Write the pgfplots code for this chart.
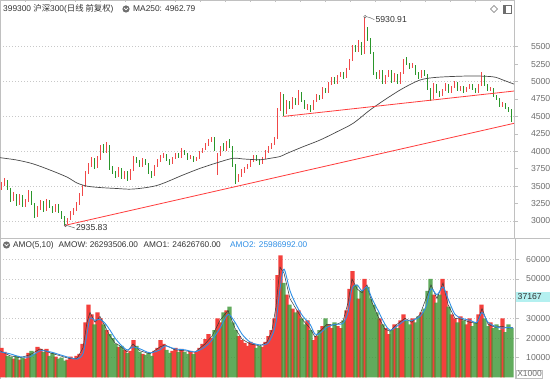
\documentclass[border=0pt]{standalone}
\usepackage{fontspec}
\setmainfont{Liberation Sans}
\newfontfamily\cjk{Noto Sans CJK SC}
\usepackage{pgfplots}
\usepackage{pgfplotstable}
\pgfplotsset{compat=1.18}
\definecolor{candred}{HTML}{F04848}
\definecolor{candgreen}{HTML}{2A962A}
\definecolor{volred}{HTML}{F4403C}
\definecolor{volgreen}{HTML}{3A9634}
\definecolor{trendred}{HTML}{FF3C3C}
\definecolor{magray}{HTML}{484848}
\definecolor{amoblue}{HTML}{2F8FE6}
\definecolor{amodark}{HTML}{3A3A3A}
\definecolor{gridgray}{HTML}{C8C8C8}
\definecolor{framegray}{HTML}{C0C0C0}
\definecolor{labelgray}{HTML}{6E6E6E}
\definecolor{boxcyan}{HTML}{B4F0F0}
\definecolor{hdr}{HTML}{333333}

\pgfplotstableread{
o h l c v
3480 3560 3450 3520 15000
3530 3610 3500 3580 13000
3570 3590 3440 3470 11000
3460 3480 3270 3300 10500
3300 3410 3280 3380 9500
3370 3390 3220 3250 11000
3250 3390 3230 3360 9000
3350 3370 3200 3230 10000
3230 3320 3200 3290 9500
3290 3450 3270 3420 12500
3410 3430 3230 3250 13500
3240 3260 3050 3080 12000
3080 3210 3060 3180 15500
3180 3300 3160 3270 14500
3260 3280 3130 3160 13000
3160 3310 3140 3290 14500
3280 3300 3180 3200 11000
3200 3220 3120 3150 12500
3150 3250 3130 3230 10500
3220 3240 3110 3130 9500
3130 3150 3030 3050 10000
3050 3070 2935.83 2980 8500
2980 3050 2960 3030 9000
3030 3140 3010 3120 10500
3120 3190 3090 3170 9500
3170 3270 3150 3250 11000
3250 3400 3230 3380 12000
3380 3520 3360 3500 17000
3500 3720 3490 3700 28000
3700 3830 3680 3800 37000
3800 3920 3770 3880 32000
3880 3900 3750 3780 27000
3780 3930 3760 3900 33000
3900 4090 3880 4060 30000
4060 4110 3970 4000 27000
4000 4127 3980 4080 24000
4070 4090 3730 3760 22000
3760 3790 3680 3700 20000
3700 3720 3620 3650 17000
3650 3770 3630 3740 15500
3740 3760 3600 3620 16000
3620 3720 3600 3700 14000
3700 3710 3580 3600 12500
3600 3740 3590 3720 13500
3720 3930 3710 3900 19000
3900 3920 3830 3850 16000
3850 3870 3780 3800 13000
3800 3900 3780 3880 12000
3880 3890 3800 3820 11500
3820 3830 3680 3700 12500
3700 3720 3620 3650 11000
3650 3810 3640 3790 13500
3790 3890 3770 3870 15000
3870 3940 3850 3920 19000
3920 3970 3900 3950 17000
3950 3960 3860 3880 14000
3880 3890 3810 3830 12500
3830 3920 3820 3900 13500
3900 3980 3890 3960 15000
3960 3970 3900 3920 13000
3920 4040 3910 4010 14500
4010 4020 3940 3960 13000
3960 3970 3880 3900 12000
3900 3940 3890 3920 13500
3920 3930 3850 3870 12000
3870 3920 3860 3900 13000
3900 4000 3890 3980 15000
3980 4050 3970 4030 17000
4030 4120 4020 4100 19500
4100 4170 4080 4150 22000
4150 4210 4130 4180 20000
4180 4200 4000 4020 24000
3690 3980 3660 3950 30000
3950 4080 3930 4060 28000
4060 4120 4000 4020 33000
4020 4150 4010 4130 34000
4130 4180 4040 4060 36000
4060 4070 3780 3800 28000
3800 3820 3530 3580 24000
3580 3670 3560 3650 21000
3650 3740 3630 3720 19000
3720 3780 3690 3760 17500
3760 3820 3740 3800 16000
3800 3880 3780 3860 18000
3860 3950 3850 3930 17000
3930 3940 3860 3880 15000
3880 3890 3810 3830 16000
3830 3920 3820 3900 15500
3900 4020 3890 4000 18000
4000 4070 3980 4050 21000
4050 4120 4030 4100 24000
4100 4200 4090 4180 30000
4190 4620 4180 4600 52000
4600 4850 4580 4800 62000
4800 4820 4500 4550 48000
4550 4730 4530 4700 42000
4700 4720 4600 4620 37000
4620 4780 4600 4750 35000
4750 4760 4660 4680 33000
4680 4880 4670 4830 34000
4830 4850 4700 4720 30000
4720 4730 4600 4620 27000
4620 4680 4590 4650 29000
4650 4660 4570 4600 24000
4600 4740 4590 4720 19000
4720 4820 4700 4800 21000
4800 4810 4740 4760 24000
4760 4920 4750 4900 26000
4900 4910 4830 4850 30000
4850 4990 4840 4970 27000
4970 5070 4950 5050 25000
5050 5060 4960 4980 28000
4980 5100 4970 5080 26000
5080 5140 5060 5120 25000
5120 5130 5040 5060 29000
5060 5200 5050 5180 34000
5180 5320 5170 5300 45000
5300 5530 5290 5500 54000
5500 5520 5420 5450 47000
5450 5590 5430 5560 40000
5560 5570 5380 5400 44000
5400 5930.91 5390 5750 50000
5750 5780 5580 5600 46000
5600 5620 5400 5420 40000
5420 5430 5100 5120 37000
5120 5140 5030 5050 33000
5050 5170 5040 5150 30000
5150 5160 4960 4980 27000
4980 5100 4970 5080 25000
5080 5170 5060 5150 22000
5150 5160 4980 5000 24000
5000 5120 4990 5100 27000
5100 5110 4960 4980 25000
4980 5140 4970 5120 29000
5120 5330 5110 5300 32000
5300 5350 5240 5260 29000
5260 5270 5180 5200 27000
5200 5260 5190 5230 30000
5230 5240 5100 5120 28000
5120 5130 5040 5060 31000
5060 5170 5050 5150 33000
5150 5160 5080 5100 35000
5100 5110 4880 4900 44000
4900 4910 4720 4760 50000
4760 4980 4750 4960 42000
4960 4970 4830 4850 38000
4850 4860 4780 4800 42000
4800 4900 4790 4880 50000
4880 4980 4870 4960 44000
4960 4970 4830 4850 36000
4850 4940 4840 4920 32000
4920 5010 4910 4990 30000
4990 5000 4860 4880 28000
4880 4940 4870 4920 31000
4920 4930 4840 4860 29000
4860 4920 4850 4900 27000
4900 4970 4890 4950 30000
4950 4960 4880 4900 26000
4900 4910 4830 4850 28000
4850 4970 4840 4950 32000
4950 5140 4940 5080 37000
5080 5090 4930 4950 30000
4950 4960 4860 4880 26000
4880 4920 4870 4900 28000
4900 4910 4780 4800 25000
4800 4810 4740 4760 27000
4760 4770 4630 4650 24000
4650 4700 4640 4680 30000
4680 4690 4600 4620 23000
4620 4630 4560 4580 27000
4580 4610 4420 4520 25000
}\data

\pgfplotsset{
  candle/.style n args={3}{draw=none, mark=none, forget plot,
    restrict expr to domain={\thisrow{c}-\thisrow{o}}{#1},
    error bars/.cd, y dir=both, y explicit, error mark=none,
    error bar style={draw=#2, line width=#3, solid}},
}

\begin{document}
\begin{tikzpicture}
\fill[white] (0,0) rectangle (550bp,379bp);
\useasboundingbox (0,0) rectangle (550bp,379bp);

% ---------- price panel ----------
\begin{axis}[
  at={(0bp,141bp)}, anchor=south west, scale only axis,
  width=514bp, height=238bp,
  xmin=0, xmax=514, ymin=2756.2, ymax=6169.8,
  axis line style={draw=framegray, line width=0.6bp},
  xtick=\empty,
  ytick={3000,3500,4000,4500,5000,5500},
  extra y ticks={3250,3750,4250,4750,5250},
  extra y tick style={grid=none},
  ymajorgrids,
  grid style={gridgray, dash pattern=on 1bp off 2bp, line width=0.6bp},
  ytick pos=right, yticklabel pos=right, tick align=outside,
  major tick length=3.5bp,
  ytick style={draw=framegray, line width=0.6bp},
  yticklabel style={font=\fontsize{8.7}{10}\selectfont, text=labelgray, anchor=east, inner sep=0pt, xshift=33bp},
  scaled y ticks=false,
  /pgf/number format/1000 sep={},
  /pgf/number format/assume math mode=true,
  clip=false,
]
% wicks and bodies, up (red)
\addplot[candle={0:100000}{candred}{0.5bp}]
  table[x expr=1.5+3*\coordindex, y expr={(\thisrow{h}+\thisrow{l})/2}, y error expr={(\thisrow{h}-\thisrow{l})/2}] {\data};
\addplot[candle={0:100000}{candred}{1.6bp}]
  table[x expr=1.5+3*\coordindex, y expr={(\thisrow{c}+\thisrow{o})/2}, y error expr={abs(\thisrow{c}-\thisrow{o})/2+3}] {\data};
% wicks and bodies, down (green)
\addplot[candle={-100000:-0.001}{candgreen}{0.5bp}]
  table[x expr=1.5+3*\coordindex, y expr={(\thisrow{h}+\thisrow{l})/2}, y error expr={(\thisrow{h}-\thisrow{l})/2}] {\data};
\addplot[candle={-100000:-0.001}{candgreen}{1.6bp}]
  table[x expr=1.5+3*\coordindex, y expr={(\thisrow{c}+\thisrow{o})/2}, y error expr={abs(\thisrow{c}-\thisrow{o})/2+3}] {\data};
% MA250
\addplot[magray, line width=0.7bp, smooth, mark=none] coordinates {
(0,3908) (17,3874) (33,3820) (50,3731) (67,3630) (77,3545) (87,3500) (100,3480)
(117,3466) (133,3458) (157,3510) (183,3660) (200,3755) (217,3835) (233,3900)
(243,3890) (260,3878) (270,3899) (280,3925) (287,3970) (303,4065) (320,4161)
(337,4280) (353,4400) (370,4592) (387,4760) (403,4903) (420,5022) (437,5061)
(470,5080) (493,5068) (503,5022) (514,4963)};
% trend lines
\addplot[trendred, line width=0.8bp, mark=none] coordinates {(64.5,2935.83) (514,4401)};
\addplot[trendred, line width=0.8bp, mark=none] coordinates {(283.5,4500) (514,4864)};
% annotations
\draw[labelgray, line width=0.5bp] (axis cs:365,5930.91) circle (1.3bp);
\draw[labelgray, line width=0.5bp] (axis cs:366.3,5930.91) .. controls +(3bp,0bp) and +(-3bp,1bp) .. ++(8bp,-3bp) node[anchor=west, inner sep=1pt, text=hdr, font=\fontsize{8.7}{10}\selectfont] {5930.91};
\draw[labelgray, line width=0.5bp] (axis cs:65.5,2935.83) circle (1.3bp);
\draw[labelgray, line width=0.5bp] (axis cs:66.8,2935.83) .. controls +(3bp,0bp) and +(-3bp,0bp) .. ++(8bp,-2.5bp) node[anchor=west, inner sep=1pt, text=hdr, font=\fontsize{8.7}{10}\selectfont] {2935.83};
\end{axis}

% ---------- amount panel ----------
\begin{axis}[
  at={(0bp,0bp)}, anchor=south west, scale only axis,
  width=515.5bp, height=141bp,
  xmin=0, xmax=515.5, ymin=-813, ymax=70833,
  axis line style={draw=framegray, line width=0.6bp},
  xtick=\empty,
  ytick={10000,20000,30000,40000,50000,60000},
  yticklabels={10000,20000,30000,,50000,60000},
  ymajorgrids,
  grid style={gridgray, dash pattern=on 1bp off 2bp, line width=0.6bp},
  ytick pos=right, yticklabel pos=right, tick align=outside,
  major tick length=3.5bp,
  ytick style={draw=framegray, line width=0.6bp},
  yticklabel style={font=\fontsize{8.7}{10}\selectfont, text=labelgray, anchor=east, inner sep=0pt, xshift=31.5bp},
  scaled y ticks=false,
]
\addplot[ybar, bar shift=0pt, bar width=4.2, fill=volred, draw=none,
  restrict expr to domain={\thisrow{c}-\thisrow{o}}{0:100000}]
  table[x expr=1.5+3*\coordindex, y=v] {\data};
\addplot[ybar, bar shift=0pt, bar width=4.2, fill=volgreen, draw=none, fill opacity=0.8,
  restrict expr to domain={\thisrow{c}-\thisrow{o}}{-100000:-0.001}]
  table[x expr=1.5+3*\coordindex, y=v] {\data};
% AMO1
\addplot[amodark, line width=0.5bp, mark=none] coordinates {
(0,13500) (10,11000) (20,10000) (30,11500) (40,14500) (50,12500) (60,11000) (70,9500)
(77,9500) (83,15000) (87,28000) (90,33000) (95,28000) (100,31000) (105,26000) (110,21000)
(115,17500) (120,16000) (127,13000) (133,17000) (140,13500) (150,12000) (160,15500)
(165,16500) (175,14000) (185,13500) (195,12800) (205,17000) (212,21000) (220,29000)
(228,34000) (235,25000) (242,19500) (250,17000) (260,16000) (267,18000) (272,24000)
(276,36000) (280,56000) (284,53000) (290,40000) (297,34000) (303,29000) (310,25000)
(315,20500) (320,23500) (327,27000) (335,26500) (343,28500) (348,38000) (352,50000)
(357,45000) (362,43000) (367,47000) (372,38000) (378,31000) (385,24500) (390,23500)
(397,27000) (405,30000) (412,28000) (420,32000) (426,40000) (431,47000) (437,40000)
(443,48000) (448,37000) (455,30000) (462,29500) (470,28000) (477,27500) (482,35000)
(488,27000) (495,25500) (502,26000) (508,25000) (513,25500)};
% AMO2
\addplot[amoblue, line width=0.9bp, smooth, mark=none] coordinates {
(0,13000) (10,12000) (20,10500) (30,10500) (40,13500) (50,13000) (60,11500) (70,10000)
(77,9300) (83,12000) (87,22000) (90,30000) (95,29000) (100,29500) (105,27500) (110,24000)
(115,20000) (120,17000) (127,14000) (133,15500) (140,14500) (150,12500) (160,14000)
(165,16000) (175,14500) (185,14000) (195,13000) (205,15500) (212,19000) (220,25000)
(228,32000) (235,28000) (242,22000) (250,18000) (260,16500) (267,17000) (272,21000)
(276,28000) (280,45000) (284,55000) (290,44000) (297,36000) (303,31000) (310,27000)
(315,22000) (320,22500) (327,25500) (335,27000) (343,27500) (348,33000) (352,45000)
(357,47000) (362,44000) (367,46000) (372,40000) (378,34000) (385,27000) (390,24000)
(397,26000) (405,29000) (412,29000) (420,31000) (426,36000) (431,45000) (437,42000)
(443,46000) (448,40000) (455,32000) (462,30000) (470,29000) (477,28000) (482,33000)
(488,28000) (495,26000) (502,25000) (508,25500) (513,25000)};
\end{axis}

% separator and frame decorations
\draw[framegray, line width=0.6bp] (0,141bp) -- (550bp,141bp);
\foreach \i in {1,...,20} \draw[framegray, line width=0.5bp] (25*\i bp,379bp) -- ++(0,-2.5bp);

% headers
\node[anchor=west, inner sep=0pt, text=hdr, font=\fontsize{8.4}{10}\selectfont] at (3bp,370bp) {399300 {\cjk 沪深}300({\cjk 日线 前复权})};
\fill[labelgray] (126bp,370bp) circle (3.6bp);
\draw[white, line width=0.8bp] (124.2bp,371bp) -- (126bp,369.1bp) -- (127.8bp,371bp);
\node[anchor=west, inner sep=0pt, text=hdr, font=\fontsize{8.4}{10}\selectfont] at (133bp,370bp) {MA250: 4962.79};

\fill[labelgray] (6.5bp,134bp) circle (3.6bp);
\draw[white, line width=0.8bp] (4.7bp,135bp) -- (6.5bp,133.1bp) -- (8.3bp,135bp);
\node[anchor=west, inner sep=0pt, text=hdr, font=\fontsize{8.3}{10}\selectfont] at (13bp,134bp) {AMO(5,10)};
\node[anchor=west, inner sep=0pt, text=hdr, font=\fontsize{8.3}{10}\selectfont] at (58.5bp,134bp) {AMOW: 26293506.00};
\node[anchor=west, inner sep=0pt, text=hdr, font=\fontsize{8.3}{10}\selectfont] at (143.5bp,134bp) {AMO1: 24626760.00};
\node[anchor=west, inner sep=0pt, text=amoblue, font=\fontsize{8.3}{10}\selectfont] at (230bp,134bp) {AMO2: 25986992.00};

% top-right icons
\draw[labelgray, line width=0.6bp] (494bp,373.5bp) -- (497.5bp,370bp) -- (494bp,366.5bp) -- (490.5bp,370bp) -- cycle;
\draw[labelgray, line width=0.6bp] (503bp,366bp) rectangle (511bp,374bp);
\fill[labelgray] (503bp,366bp) rectangle (506bp,374bp);

% value box and unit box
\node[anchor=west, fill=boxcyan, inner sep=0pt, minimum width=34bp, minimum height=9.5bp, text=hdr, font=\fontsize{8.7}{10}\selectfont, text width=33bp, align=left] at (516bp,82bp) {\hspace{1bp}37167};
\node[anchor=south west, draw=framegray, line width=0.6bp, inner sep=1bp, text=labelgray, font=\fontsize{8.5}{10}\selectfont] at (516bp,0.8bp) {X1000};
\end{tikzpicture}
\end{document}
